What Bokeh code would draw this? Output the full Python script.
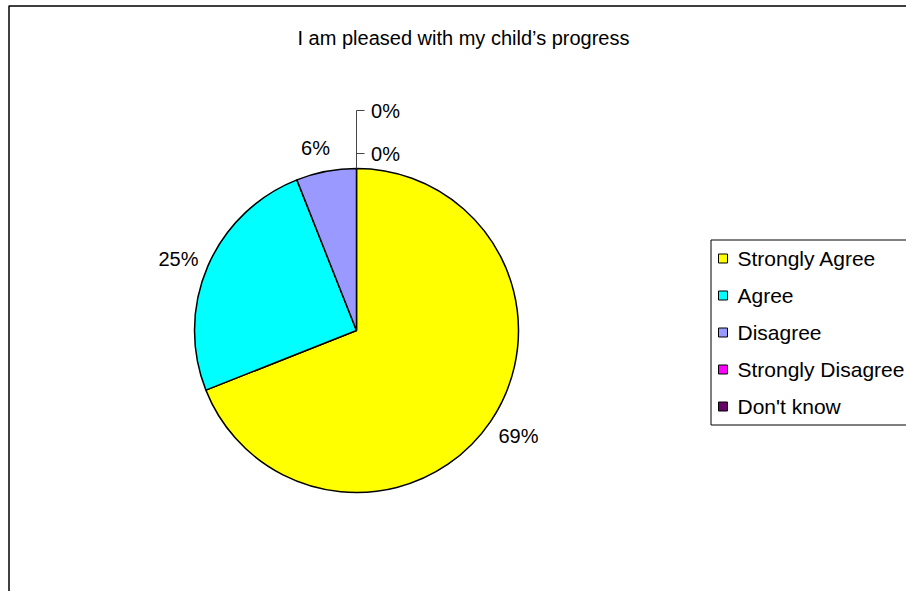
import math
from bokeh.plotting import figure
from bokeh.models import Range1d
from bokeh.core.properties import value
from bokeh.embed import file_html
from bokeh.resources import INLINE

# ---- data ----
title_text = "I am pleased with my child\u2019s progress"
categories = ["Strongly Agree", "Agree", "Disagree", "Strongly Disagree", "Don't know"]
percents = [69, 25, 6, 0, 0]
colors = ["#FFFF00", "#00FFFF", "#9999FF", "#FF00FF", "#660066"]

FONT = "Liberation Sans"
W, H = 906, 591
X0, Y0 = 0, 0  # page offset

def sy(y):
    return (Y0 + H) - y  # screen y -> data y

p = figure(width=W, height=H, output_backend="svg", toolbar_location=None,
           x_range=Range1d(X0, X0 + W), y_range=Range1d(0, H),
           min_border=0, outline_line_color=None, background_fill_color="white",
           border_fill_color="white")
p.axis.visible = False
p.xgrid.visible = False
p.ygrid.visible = False

# outer frame (left + top visible)
p.line(x=[8.5, 8.5, 920], y=[-10, sy(5.5), sy(5.5)], line_color="black", line_width=1.5)

# title
p.text(x=[463], y=[sy(37)], text=[title_text], text_font=value(FONT),
       text_font_size="20px", text_align="center", text_baseline="middle",
       text_color="black")

# pie
cx, cy, r = 356, sy(330), 162
total = sum(percents)
starts, ends = [], []
cum = 0.0
for v in percents:
    starts.append(math.pi / 2 - 2 * math.pi * cum / total)
    cum += v
    ends.append(math.pi / 2 - 2 * math.pi * cum / total)

for s, e, v, c in zip(starts, ends, percents, colors):
    if v <= 0:
        continue
    p.wedge(x=cx, y=cy, radius=r, start_angle=s, end_angle=e, direction="clock",
            fill_color=c, line_color="black", line_width=1.5)

# data labels
label_pos = [(518, 435), (178, 258), (315, 147), (385, 153), (385, 110)]
for (lx, ly), v in zip(label_pos, percents):
    p.text(x=[lx], y=[sy(ly)], text=[f"{v}%"], text_font=value(FONT),
           text_font_size="20px", text_align="center", text_baseline="middle",
           text_color="black")

# leader lines for zero slices
p.line(x=[356, 356], y=[sy(168), sy(110)], line_color="#444444", line_width=1)
p.line(x=[356, 364], y=[sy(110), sy(110)], line_color="#444444", line_width=1)
p.line(x=[356, 364], y=[sy(153), sy(153)], line_color="#444444", line_width=1)

# legend
p.line(x=[930, 710.5, 710.5, 930], y=[sy(239.5), sy(239.5), sy(424.5), sy(424.5)],
       line_color="black", line_width=1)
row_y = [258, 295, 332, 369, 406]
for ry, name, c in zip(row_y, categories, colors):
    p.rect(x=[722.5], y=[sy(ry)], width=9, height=9, fill_color=c,
           line_color="black", line_width=1)
    p.text(x=[737], y=[sy(ry)], text=[name], text_font=value(FONT),
           text_font_size="21px", text_align="left", text_baseline="middle",
           text_color="black")

open("out.html", "w").write(file_html(p, INLINE))
